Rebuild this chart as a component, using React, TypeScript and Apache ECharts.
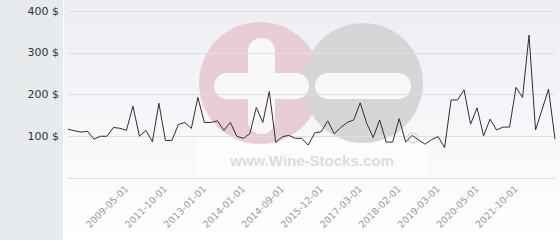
import React, { useEffect, useRef } from "react";
import * as echarts from "echarts";

const dates: string[] = [
  "2005-01-01", "2005-06-01", "2006-01-01", "2006-06-01", "2007-01-01", "2007-06-01",
  "2008-01-01", "2008-06-01", "2008-12-01", "2009-05-01", "2009-10-01", "2010-03-01",
  "2010-08-01", "2011-01-01", "2011-05-01", "2011-10-01", "2012-01-01", "2012-03-01",
  "2012-06-01", "2012-08-01", "2012-10-01", "2013-01-01", "2013-03-01", "2013-05-01",
  "2013-07-01", "2013-09-01", "2013-11-01", "2014-01-01", "2014-02-01", "2014-04-01",
  "2014-05-01", "2014-06-01", "2014-08-01", "2014-09-01", "2014-11-01", "2015-01-01",
  "2015-04-01", "2015-06-01", "2015-09-01", "2015-12-01", "2016-02-01", "2016-04-01",
  "2016-07-01", "2016-09-01", "2016-12-01", "2017-03-01", "2017-05-01", "2017-07-01",
  "2017-09-01", "2017-11-01", "2017-12-01", "2018-02-01", "2018-04-01", "2018-06-01",
  "2018-09-01", "2018-11-01", "2019-01-01", "2019-03-01", "2019-06-01", "2019-08-01",
  "2019-10-01", "2020-01-01", "2020-03-01", "2020-05-01", "2020-08-01", "2020-11-01",
  "2021-02-01", "2021-05-01", "2021-07-01", "2021-10-01", "2022-01-01", "2022-03-01",
  "2022-06-01", "2022-09-01", "2022-12-01", "2023-03-01",
];

const prices: number[] = [
  117, 113, 110, 112, 93, 100, 100, 121, 119, 114, 172, 100,
  114, 87, 179, 90, 90, 128, 133, 119, 193, 133, 133, 137,
  114, 133, 100, 95, 106, 169, 133, 207, 85, 99, 102, 95,
  95, 79, 108, 111, 137, 106, 121, 133, 139, 180, 131, 97,
  139, 86, 86, 142, 86, 102, 91, 81, 92, 99, 73, 187,
  187, 211, 129, 168, 101, 141, 115, 122, 122, 217, 193, 342,
  115, 163, 213, 93,
];

const labelledDates: string[] = [
  "2009-05-01", "2011-10-01", "2013-01-01", "2014-01-01", "2014-09-01", "2015-12-01",
  "2017-03-01", "2018-02-01", "2019-03-01", "2020-05-01", "2021-10-01",
];

const yTicks: number[] = [0, 100, 200, 300, 400];

export default function App() {
  const ref = useRef<HTMLDivElement>(null);

  useEffect(() => {
    if (!ref.current) return;
    const chart = echarts.init(ref.current, undefined, { renderer: "svg" });
    chart.setOption({
      animation: false,
      backgroundColor: "#ffffff",
      graphic: [
        { type: "rect", z: -10, shape: { x: 0, y: 0, width: 63, height: 240 }, style: { fill: "#e7ebee" } },
        {
          type: "rect", z: -10, shape: { x: 64, y: 0, width: 496, height: 240 },
          style: {
            fill: new echarts.graphic.LinearGradient(0, 0, 0, 1, [
              { offset: 0, color: "#eceef3" },
              { offset: 1, color: "#ffffff" },
            ]),
          },
        },
        { type: "rect", z: -9, shape: { x: 197, y: 137, width: 230, height: 39 }, style: { fill: "#ffffff", opacity: 0.55 } },
        { type: "circle", z: -8, shape: { cx: 260, cy: 83, r: 61 }, style: { fill: "#e9cdd4" } },
        { type: "circle", z: -7, shape: { cx: 363, cy: 83, r: 60 }, style: { fill: "#d6d6d8" } },
        { type: "rect", z: -6, shape: { x: 248, y: 38, width: 27, height: 96, r: 13 }, style: { fill: "#f8f8fa" } },
        { type: "rect", z: -6, shape: { x: 214, y: 73, width: 95, height: 26, r: 13 }, style: { fill: "#f8f8fa" } },
        { type: "rect", z: -6, shape: { x: 315, y: 73, width: 96, height: 26, r: 13 }, style: { fill: "#f8f8fa" } },
        { type: "circle", z: -6, shape: { cx: 413, cy: 138, r: 5 }, style: { fill: "none", stroke: "#d0d0d2", lineWidth: 1.2 } },
        {
          type: "text", z: -6, x: 312, y: 160,
          style: {
            text: "www.Wine-Stocks.com", fill: "#dcdcde", font: "bold 15px 'Liberation Sans', Arial, sans-serif",
            align: "center", verticalAlign: "middle",
          },
        },
      ],
      grid: { left: 68, right: 5, top: 11, bottom: 62 },
      xAxis: {
        type: "category",
        data: dates,
        boundaryGap: false,
        axisLine: { lineStyle: { color: "#dcdcdc" } },
        axisTick: { show: false },
        axisLabel: {
          rotate: 45,
          interval: (_i: number, v: string) => labelledDates.includes(v),
          color: "#9a9a9a",
          fontSize: 9.5,
          fontFamily: "DejaVu Sans",
          margin: 9,
        },
        splitLine: { show: false },
      },
      yAxis: {
        type: "value",
        min: yTicks[0],
        max: yTicks[yTicks.length - 1],
        interval: 100,
        axisLine: { show: false },
        axisTick: { show: false },
        axisLabel: {
          showMinLabel: false,
          formatter: (v: number) => `${v} $`,
          color: "#333333",
          fontSize: 11,
          fontFamily: "DejaVu Sans",
          margin: 9,
        },
        splitLine: { lineStyle: { color: "#dcdfe5", width: 1 } },
      },
      series: [
        {
          type: "line",
          data: prices,
          showSymbol: false,
          symbol: "none",
          lineStyle: { color: "#3e2533", width: 1 },
        },
      ],
    });
    return () => chart.dispose();
  }, []);

  return (
    <div
      ref={ref}
      style={{ position: "fixed", left: 0, top: 0, width: 560, height: 240 }}
    />
  );
}
